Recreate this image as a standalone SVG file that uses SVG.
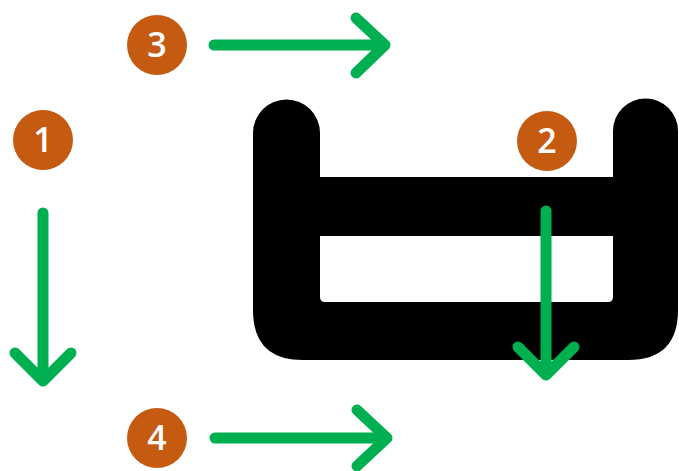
<svg xmlns="http://www.w3.org/2000/svg" width="679" height="471" viewBox="0 0 679 471">
<style>
.badge circle{fill:#C55A11}
.badge text{fill:#fff;font-family:"Open Sans","Noto Sans",sans-serif;font-size:34px;font-weight:600;text-anchor:middle}
.arrow{fill:none;stroke:#00B050;stroke-width:11;stroke-linecap:round;stroke-linejoin:round}
</style>
<rect width="679" height="471" fill="#fff"/>
<g id="glyph">
<path fill="#000" fill-rule="evenodd" d="M253,133 A33.5,33.5 0 0 1 320,133 L320,177 L613,177 L613,131 A32.5,32.5 0 0 1 678,131 L678,310 Q678,360 628,360 L303,360 Q253,360 253,310 Z M320,236 L613,236 L613,297 Q613,302 608,302 L325,302 Q320,302 320,297 Z"/>
</g>
<g id="connectors">
<path class="arrow" d="M43,213 L43,381 M15,353 L43,381 L71,353"/>
<path class="arrow" d="M546,211 L546,375 M518,347 L546,375 L574,347"/>
<path class="arrow" d="M214,45 L385,45 M356,18 L385,45 L356,73"/>
<path class="arrow" d="M215,438 L387,438 M357,410 L387,438 L357,466"/>
</g>
<g id="n1" class="badge"><circle cx="43" cy="140" r="30"/><text x="43" y="152">1</text></g>
<g id="n2" class="badge"><circle cx="547" cy="141" r="30"/><text x="547" y="153">2</text></g>
<g id="n3" class="badge"><circle cx="157" cy="45" r="30"/><text x="157" y="57">3</text></g>
<g id="n4" class="badge"><circle cx="157" cy="438" r="30"/><text x="157" y="450">4</text></g>
</svg>
